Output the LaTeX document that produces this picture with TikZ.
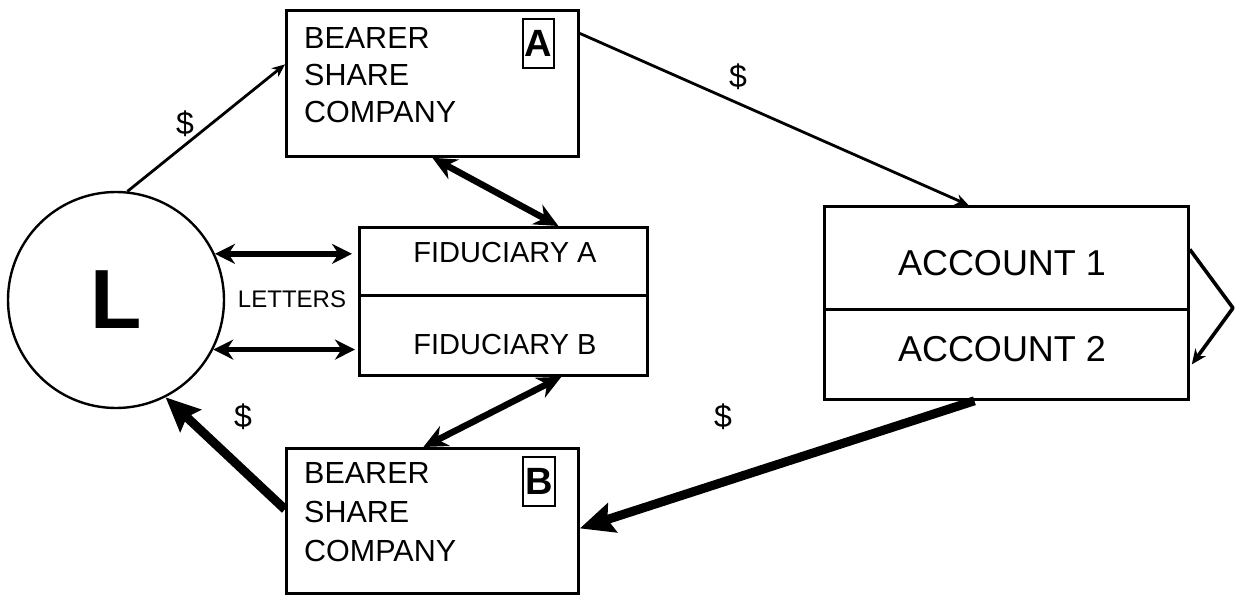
\documentclass[tikz,border=0pt]{standalone}
\usepackage{fontspec}
\setmainfont{Liberation Sans}
\usetikzlibrary{arrows.meta,calc}
\begin{document}
\begin{tikzpicture}[x=1pt,y=-1pt,
  box/.style={draw,line width=2.8pt,rectangle,inner sep=0pt,anchor=north west},
  lab/.style={draw,line width=2pt,inner sep=0pt,minimum width=31pt,minimum height=49pt,font=\fontsize{38}{38}\selectfont\bfseries},
  cotext/.style={anchor=north west,align=left,inner sep=0pt,font=\fontsize{30.5}{37}\selectfont},
  midtext/.style={inner sep=0pt,font=\fontsize{29}{29}\selectfont},
  acctext/.style={inner sep=0pt,font=\fontsize{36}{36}\selectfont},
  dollar/.style={inner sep=0pt,font=\fontsize{32}{32}\selectfont},
  thinarr/.style={line width=2.8pt,-{Stealth[length=13pt,width=11pt]}},
  selfarr/.style={line width=3.6pt,line join=round,-{Stealth[length=15pt,width=13pt]}},
  letarr/.style={line width=5.5pt,{Stealth[length=20pt,width=20pt]}-{Stealth[length=20pt,width=20pt]}},
  fidarr/.style={line width=6.5pt,{Stealth[length=24pt,width=22pt]}-{Stealth[length=24pt,width=22pt]}},
  bigarr/.style={line width=9pt,-{Stealth[length=34pt,width=30pt,inset=5pt]}}
]
\useasboundingbox (0,0) rectangle (1236,594);

% Circle L
\node[circle,draw,line width=2.4pt,minimum size=216pt,inner sep=0pt,font=\fontsize{84}{84}\selectfont\bfseries] (L) at (116,300) {L};

% Bearer share company A
\node[box,minimum width=292pt,minimum height=146pt] (A) at (285,9) {};
\node[cotext] (At) at (304,27) {BEARER\\SHARE\\COMPANY};
\node[lab] (Alab) at (538.5,43.5) {A};

% Bearer share company B
\node[box,minimum width=292pt,minimum height=145pt] (B) at (285,447) {};
\node[cotext,font=\fontsize{30.5}{39}\selectfont] (Bt) at (304,462) {BEARER\\SHARE\\COMPANY};
\node[lab,minimum width=32pt] (Blab) at (539,481.5) {B};

% Fiduciaries
\node[box,minimum width=288pt,minimum height=68pt] (FA) at (358,226) {};
\node[box,minimum width=288pt,minimum height=80pt] (FB) at (358,294) {};
\node[midtext] (FAt) at (505,253) {FIDUCIARY A};
\node[midtext] (FBt) at (505,345) {FIDUCIARY B};

% Accounts
\node[box,minimum width=364pt,minimum height=103pt] (Acc1) at (823,205) {};
\node[box,minimum width=364pt,minimum height=90pt] (Acc2) at (823,308) {};
\node[acctext] (Acc1t) at (1002,263) {ACCOUNT 1};
\node[acctext] (Acc2t) at (1002,349) {ACCOUNT 2};

% Labels
\node[inner sep=0pt,font=\fontsize{24}{24}\selectfont] (letters) at (292,299) {LETTERS};
\node[dollar] (d1) at (185,124) {\$};
\node[dollar] (d2) at (738,77) {\$};
\node[dollar] (d3) at (243,417) {\$};
\node[dollar] (d4) at (723,417) {\$};

% Connectors
\coordinate (turn) at (1233,308);
\draw[thinarr] (L.84) -- ([yshift=19pt]A.west);
\draw[thinarr] ([yshift=50pt]A.east) -- ([xshift=-38pt]Acc1.north);
\draw[selfarr] ([yshift=8.5pt]Acc1.east) -- (turn) -- ([yshift=-10pt,xshift=2pt]Acc2.east);
\draw[bigarr] ([xshift=-32pt]Acc2.south) -- ([yshift=-7.5pt]B.east);
\draw[bigarr] ([yshift=11.5pt]B.west) -- (L.-63);
\draw[letarr,shorten >=6pt] (L.25) -- (L.25 -| FA.west);
\draw[letarr,shorten >=3pt] (L.-27) -- (L.-27 -| FB.west);
\draw[fidarr] (A.south) -- ([xshift=55pt]FA.north);
\draw[fidarr] ([xshift=58pt]FB.south) -- ([xshift=-9pt]B.north);
\end{tikzpicture}
\end{document}
